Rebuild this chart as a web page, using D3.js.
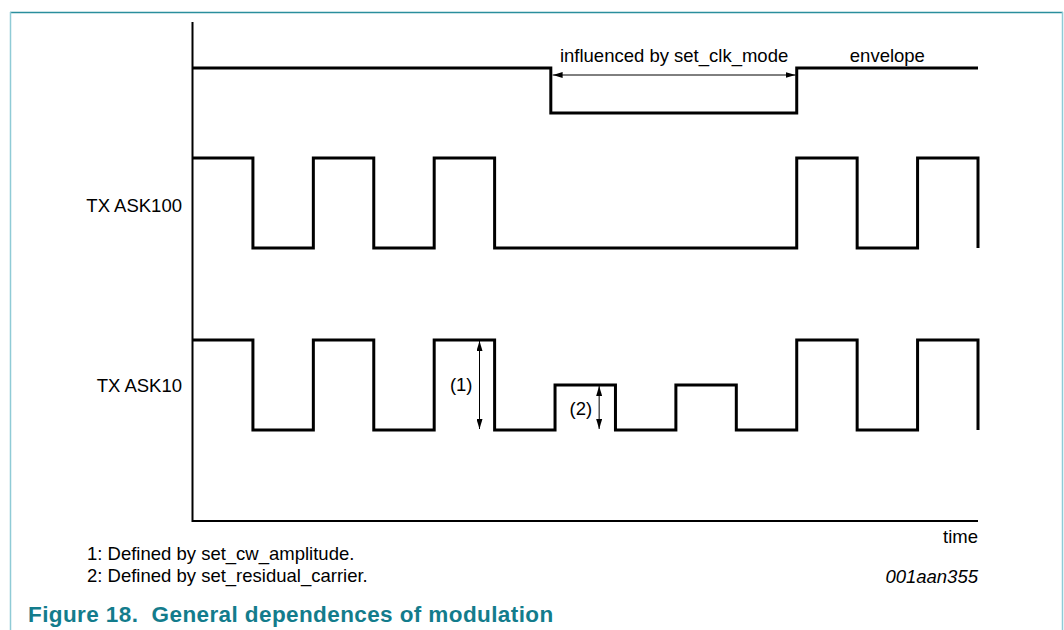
<!DOCTYPE html>
<html><head><meta charset="utf-8">
<script src="https://cdn.jsdelivr.net/npm/d3@7"></script>
<style>
html,body{margin:0;padding:0;background:#fff;}
svg{display:block;font-family:"Liberation Sans",Arial,sans-serif;}
</style></head>
<body>
<svg id="c" width="1064" height="630"></svg>
<script>
// ---- data (time in bit periods, levels normalised 0..1) ----
const envTimes   = [0, 5.93, 10, 13];
const envLevels  = [1, 0, 1, 1];
const ask100Times  = [0, 1, 2, 3, 4, 5, 10, 11, 12, 13];
const ask100Levels = [1, 0, 1, 0, 1, 0, 1, 0, 1, 0];
const ask10Times   = [0, 1, 2, 3, 4, 5, 6, 7, 8, 9, 10, 11, 12, 13];
const ask10Levels  = [1, 0, 1, 0, 1, 0, 0.5, 0, 0.5, 0, 1, 0, 1, 0];
const traceLabels  = ["TX ASK100", "TX ASK10"];
const clkSpan      = [5.96, 9.98];
const notes        = ["1: Defined by set_cw_amplitude.", "2: Defined by set_residual_carrier."];
const annot1 = {t: 4.75, from: 1, to: 0, label: "(1)"};
const annot2 = {t: 6.73, from: 0.5, to: 0, label: "(2)"};

const svg = d3.select("#c");
const x = d3.scaleLinear().domain([0, 13]).range([192.5, 978]);
const yEnv = d3.scaleLinear().domain([0, 1]).range([113, 68]);
const y100 = d3.scaleLinear().domain([0, 1]).range([248, 158]);
const y10  = d3.scaleLinear().domain([0, 1]).range([430, 340]);

// frame
svg.append("line").attr("x1",10).attr("x2",1063).attr("y1",12.5).attr("y2",12.5).attr("stroke","#2a8e9d").attr("stroke-width",1.5);
svg.append("line").attr("x1",10.5).attr("x2",10.5).attr("y1",12).attr("y2",630).attr("stroke","#8fcbd6").attr("stroke-width",1.5);
svg.append("line").attr("x1",1062.5).attr("x2",1062.5).attr("y1",12).attr("y2",630).attr("stroke","#8fcbd6").attr("stroke-width",1.5);

// axes
svg.append("path").attr("d", d3.line()([[x(0), 22],[x(0), 521],[x(13), 521]]))
  .attr("fill","none").attr("stroke","#000").attr("stroke-width",2);

// signals
const step = (ts, ls, ys) => d3.line().x((d,i)=>x(ts[i])).y(d=>ys(d)).curve(d3.curveStepAfter)(ls);
function trace(ts, ls, ys){
  svg.append("path").attr("d", step(ts, ls, ys)).attr("fill","none")
    .attr("stroke","#000").attr("stroke-width",3).attr("stroke-linejoin","miter");
}
trace(envTimes, envLevels, yEnv);
trace(ask100Times, ask100Levels, y100);
trace(ask10Times, ask10Levels, y10);

// arrowheads
const defs = svg.append("defs");
defs.append("marker").attr("id","ah").attr("viewBox","0 0 10 6").attr("refX",10).attr("refY",3)
  .attr("markerWidth",10).attr("markerHeight",6).attr("markerUnits","userSpaceOnUse").attr("orient","auto-start-reverse")
  .append("path").attr("d","M0,0L10,3L0,6Z").attr("fill","#000");

function dbl(x1,y1,x2,y2){
  svg.append("line").attr("x1",x1).attr("y1",y1).attr("x2",x2).attr("y2",y2)
    .attr("stroke","#000").attr("stroke-width",1)
    .attr("marker-start","url(#ah)").attr("marker-end","url(#ah)");
}
dbl(x(clkSpan[0]), 75, x(clkSpan[1]), 75);
dbl(x(annot1.t), y10(annot1.from)+1, x(annot1.t), y10(annot1.to)-1);
dbl(x(annot2.t), y10(annot2.from)+1, x(annot2.t), y10(annot2.to)-1);

const fs = "18.5px";
function txt(s, xx, yy, anchor, extra){
  const t = svg.append("text").attr("x",xx).attr("y",yy).attr("text-anchor",anchor||"start")
    .attr("font-size",fs).attr("fill","#000").text(s);
  if (extra) extra(t);
  return t;
}
txt("influenced by set_clk_mode", (x(clkSpan[0])+x(clkSpan[1]))/2, 61.5, "middle");
txt("envelope", (x(10)+x(13))/2, 61.5, "middle");
txt(traceLabels[0], 182, 212, "end");
txt(traceLabels[1], 182, 392, "end");
txt(annot1.label, x(annot1.t)-7, 391, "end");
txt(annot2.label, x(annot2.t)-7, 415, "end");
txt("time", 978, 543, "end");
txt(notes[0], 87, 560);
txt(notes[1], 87, 582);
txt("001aan355", 978, 583, "end", t=>t.attr("font-style","italic"));

svg.append("text").attr("x",28).attr("y",622).attr("font-size","22.5px").attr("font-weight","bold")
  .attr("letter-spacing","0.4px")
  .attr("fill","#137c8c").attr("xml:space","preserve").text("Figure 18.  General dependences of modulation");
</script>
</body></html>
